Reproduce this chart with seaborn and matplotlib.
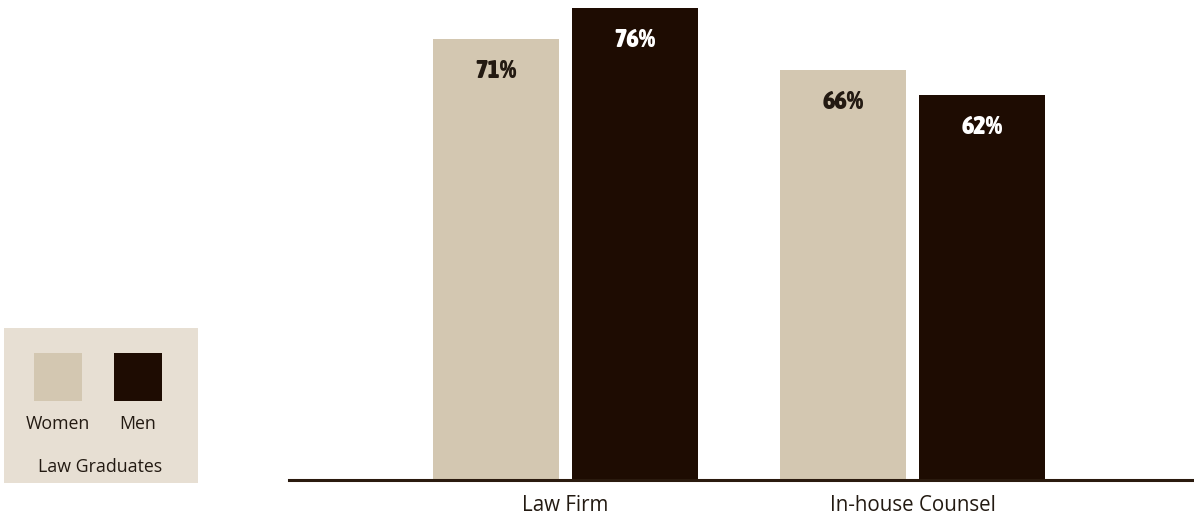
import matplotlib
matplotlib.use("Agg")
import matplotlib.pyplot as plt
from matplotlib import font_manager
import seaborn as sns
import pandas as pd
from matplotlib.patches import Rectangle

# Share of law graduates by sector and gender
sectors = ["Law Firm", "In-house Counsel"]
groups = ["Women", "Men"]
women_pct = [71, 66]
men_pct = [76, 62]
legend_title = "Law Graduates"

WOMEN_COLOR = "#d3c7b1"
MEN_COLOR = "#1e0c02"
TEXT_COLOR = "#231a12"
PANEL_COLOR = "#e7dfd3"

df = pd.DataFrame({
    "sector": sectors * 2,
    "group": [groups[0]] * len(sectors) + [groups[1]] * len(sectors),
    "pct": women_pct + men_pct,
})

sns.set_theme(style="white")
plt.rcParams["font.family"] = ["Open Sans", "DejaVu Sans"]


def _weight(w):
    names = {"bold": 700, "heavy": 800, "extra bold": 800, "black": 900,
             "semibold": 600, "demibold": 600, "normal": 400, "regular": 400}
    return w if isinstance(w, int) else names.get(str(w).lower(), 400)


def condensed_bold():
    """Pick an upright narrow bold face for the value labels if one is installed."""
    candidates = []
    for f in font_manager.fontManager.ttflist:
        if f.style != "normal":
            continue
        name = f.name.lower()
        narrow = ("narrow" in name or "condensed" in name
                  or str(f.stretch) in ("condensed", "semi-condensed", "extra-condensed")
                  or (isinstance(f.stretch, int) and f.stretch < 500))
        w = _weight(f.weight)
        if narrow and w >= 700:
            candidates.append((w, "condensed" in name, f))
    if candidates:
        candidates.sort(key=lambda c: (c[1], c[0]), reverse=True)
        return font_manager.FontProperties(fname=candidates[0][2].fname)
    return font_manager.FontProperties(family="DejaVu Sans", weight="bold",
                                       stretch="condensed")


label_font = condensed_bold()
label_font.set_size(19)

fig = plt.figure(figsize=(11.94, 5.14), dpi=100)
ax = fig.add_axes([289 / 1194, 1 - 480 / 514, 1 - 289 / 1194, 480 / 514])

sns.barplot(data=df, x="sector", y="pct", hue="group", order=sectors,
            hue_order=groups, palette=[WOMEN_COLOR, MEN_COLOR],
            width=0.8, gap=0.094, saturation=1, linewidth=0,
            legend=False, ax=ax)

ax.set_xlim(-0.795, 1.81)
ax.set_ylim(0, 77.3)
ax.set_xlabel("")
ax.set_ylabel("")
ax.set_yticks([])
ax.tick_params(axis="x", length=0, pad=11, labelsize=14.8, colors=TEXT_COLOR)
for side in ["top", "right", "left"]:
    ax.spines[side].set_visible(False)
ax.spines["bottom"].set_color("#2a1a0e")
ax.spines["bottom"].set_linewidth(2.2)

# value labels inside the top of each bar
for container, txt_color in zip(ax.containers, [TEXT_COLOR, "white"]):
    for patch in container:
        v = patch.get_height()
        ax.text(patch.get_x() + patch.get_width() / 2, v - 5.0, f"{v:.0f}%",
                ha="center", va="center", fontproperties=label_font,
                color=txt_color)

# key panel on the left
lax = fig.add_axes([4 / 1194, 1 - 483 / 514, 194 / 1194, 155 / 514])
lax.set_facecolor(PANEL_COLOR)
lax.set_xlim(0, 194)
lax.set_ylim(155, 0)
lax.set_xticks([])
lax.set_yticks([])
for s in lax.spines.values():
    s.set_visible(False)
for x0, color, name in zip([30, 110], [WOMEN_COLOR, MEN_COLOR], groups):
    lax.add_patch(Rectangle((x0, 25), 48, 48, facecolor=color, edgecolor="none"))
    lax.text(x0 + 24, 96, name, ha="center", va="center",
             fontsize=12.8, color=TEXT_COLOR)
lax.text(96, 139, legend_title, ha="center", va="center",
         fontsize=12.8, color=TEXT_COLOR)

fig.savefig("out.png", dpi=100)
